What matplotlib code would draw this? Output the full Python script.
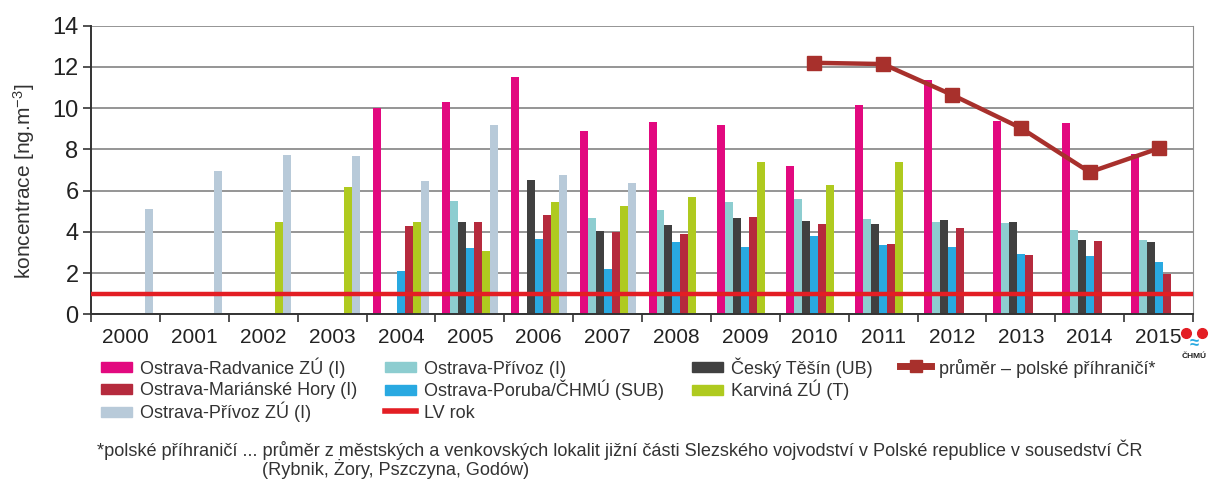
import matplotlib
matplotlib.use("Agg")
import matplotlib.pyplot as plt
import matplotlib.patches as mpatches
from matplotlib.legend_handler import HandlerPatch
from matplotlib.lines import Line2D
import numpy as np

plt.rcParams['font.family'] = ['Liberation Sans', 'DejaVu Sans']

nan = np.nan
years = [str(y) for y in range(2000, 2016)]

radvanice = [nan, nan, nan, nan, 10.0, 10.3, 11.5, 8.9, 9.35, 9.2, 7.2, 10.15, 11.35, 9.38, 9.3, 7.8]
privoz = [nan, nan, nan, nan, nan, 5.5, nan, 4.7, 5.05, 5.45, 5.6, 4.62, 4.46, 4.43, 4.12, 3.6]
tesin = [nan, nan, nan, nan, nan, 4.5, 6.5, 4.04, 4.33, 4.69, 4.53, 4.38, 4.59, 4.49, 3.62, 3.51]
poruba = [nan, nan, nan, nan, 2.12, 3.2, 3.67, 2.21, 3.49, 3.25, 3.8, 3.36, 3.25, 2.93, 2.83, 2.54]
marianske = [nan, nan, nan, nan, 4.27, 4.46, 4.83, 4.01, 3.9, 4.75, 4.41, 3.43, 4.17, 2.88, 3.54, 1.97]
karvina = [nan, nan, 4.48, 6.16, 4.48, 3.1, 5.45, 5.25, 5.68, 7.39, 6.26, 7.39, nan, nan, nan, nan]
privoz_zu = [5.11, 6.97, 7.71, 7.69, 6.48, 9.17, 6.77, 6.39, nan, nan, nan, nan, nan, nan, nan, nan]
prumer = [nan] * 10 + [12.2, 12.14, 10.65, 9.04, 6.9, 8.05]
lv_rok = 1

# bar order inside each year group (left -> right)
series = [
    ("Ostrava-Radvanice ZÚ (I)", radvanice, "#E2097F"),
    ("Ostrava-Přívoz (I)", privoz, "#8DCDD0"),
    ("Český Těšín (UB)", tesin, "#404040"),
    ("Ostrava-Poruba/ČHMÚ (SUB)", poruba, "#29A9E1"),
    ("Ostrava-Mariánské Hory (I)", marianske, "#B52A3D"),
    ("Karviná ZÚ (T)", karvina, "#AFCA1F"),
    ("Ostrava-Přívoz ZÚ (I)", privoz_zu, "#B8CAD9"),
]
colors = {name: c for name, _, c in series}

fig = plt.figure(figsize=(12.09, 4.80), dpi=100)
ax = fig.add_axes([0.0753, 0.3448, 0.9115, 0.6017])

x = np.arange(len(years))
w = 0.116
for k, (name, vals, col) in enumerate(series):
    ax.bar(x + (k - 3) * w, vals, width=w, color=col, zorder=2, label=name)

ax.axhline(lv_rok, color="#E31E24", lw=3.2, zorder=3)
ax.plot(x, prumer, color="#A8302C", lw=3.2, marker="s", ms=10, zorder=4)

ax.set_xlim(-0.5, 15.5)
ax.set_ylim(0, 14)
ax.set_yticks(range(0, 15, 2))
ax.set_xticks(x)
ax.set_xticklabels(years)
ax.set_xticks(np.arange(-0.5, 16, 1), minor=True)
ax.tick_params(axis="x", which="major", length=0, labelsize=15, pad=10, colors="#222")
ax.tick_params(axis="x", which="minor", length=6, width=1.2, color="#333")
ax.tick_params(axis="y", length=6, width=1.2, color="#333", labelsize=17, labelcolor="#222", pad=3)
ax.yaxis.grid(True, color="#8C8C8C", lw=1.3, zorder=0)
ax.set_axisbelow(True)
for s in ["left", "bottom"]:
    ax.spines[s].set_color("#333")
    ax.spines[s].set_linewidth(1.4)
ax.spines["right"].set_color("#8C8C8C")
ax.spines["top"].set_visible(False)
ax.set_ylabel("koncentrace [ng.m$\\mathregular{^{-3}}$]", fontsize=15, color="#333")
ax.yaxis.set_label_coords(-0.049, 0.462)


def patch(name):
    return mpatches.Patch(color=colors[name], label=name)


def swatch(legend, orig_handle, xdescent, ydescent, width, height, fontsize):
    # flat swatch centred in a taller handle box, so all rows line up
    h = 0.55 * fontsize
    return mpatches.Rectangle((-xdescent, -ydescent + (height - h) / 2), width, h)


blank = mpatches.Patch(color="none", label="")
handles = [
    patch("Ostrava-Radvanice ZÚ (I)"), patch("Ostrava-Mariánské Hory (I)"), patch("Ostrava-Přívoz ZÚ (I)"),
    patch("Ostrava-Přívoz (I)"), patch("Ostrava-Poruba/ČHMÚ (SUB)"),
    Line2D([], [], color="#E31E24", lw=4, label="LV rok"),
    patch("Český Těšín (UB)"), patch("Karviná ZÚ (T)"), blank,
    Line2D([], [], color="#A8302C", lw=5, marker="s", ms=9, label="průměr – polské příhraničí*"),
    blank, blank,
]
fig.legend(handles=handles, ncol=4, loc="upper left", bbox_to_anchor=(101 / 1209, 1 - 357 / 480),
           frameon=False, fontsize=13, handlelength=1.7, handleheight=1.25,
           handletextpad=0.45, labelspacing=0.13, borderpad=0, borderaxespad=0,
           columnspacing=1.55, labelcolor="#333",
           handler_map={mpatches.Patch: HandlerPatch(patch_func=swatch)})

fig.text(97 / 1209, 1 - 450 / 480,
         "*polské příhraničí ... průměr z městských a venkovských lokalit jižní části "
         "Slezského vojvodství v Polské republice v sousedství ČR",
         fontsize=13.1, color="#333", va="center", ha="left")
fig.text(262 / 1209, 1 - 469 / 480, "(Rybnik, Żory, Pszczyna, Godów)",
         fontsize=13.1, color="#333", va="center", ha="left")

# small ČHMÚ logo
fig.add_artist(Line2D([1186 / 1209, 1202 / 1209], [1 - 333 / 480, 1 - 333 / 480],
                      transform=fig.transFigure, ls="none", marker="o", ms=7, color="#E31E24"))
fig.text(1194 / 1209, 1 - 344 / 480, "≈", fontsize=12, color="#29A9E1", ha="center", va="center",
         fontweight="bold")
fig.text(1194 / 1209, 1 - 356 / 480, "ČHMÚ", fontsize=6, color="#222", ha="center", va="center",
         fontweight="bold")

fig.savefig("out.png", dpi=100)
